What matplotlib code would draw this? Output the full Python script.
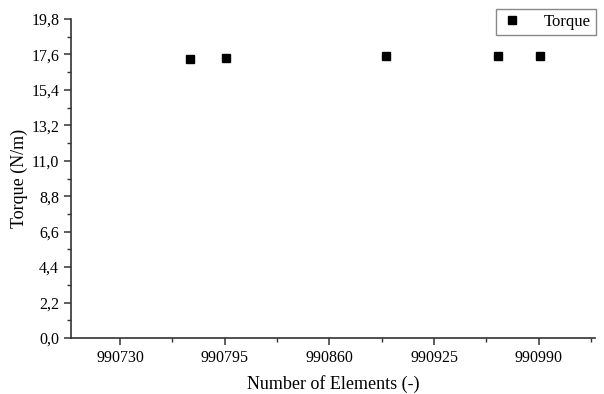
import numpy as np
import matplotlib
matplotlib.use("Agg")
import matplotlib.pyplot as plt
from matplotlib.ticker import MultipleLocator, FuncFormatter

# values
elements = [990773.5, 990796, 990895, 990965, 990991]
torque = [17.30, 17.36, 17.52, 17.52, 17.52]

plt.rcParams['font.family'] = ['Liberation Serif', 'DejaVu Serif']

fig = plt.figure(figsize=(6.04, 3.94), dpi=100)
ax = fig.add_axes([71/604, 1 - 338/394, (595-71)/604, (338-19)/394])

ax.plot(elements, torque, 's', color='black', ms=5.5, label='Torque')

ax.set_xlim(990699.5, 991025)
ax.set_ylim(0, 19.8)
ax.xaxis.set_major_locator(MultipleLocator(65))
ax.xaxis.set_minor_locator(MultipleLocator(32.5))
ax.yaxis.set_major_locator(MultipleLocator(2.2))
ax.yaxis.set_minor_locator(MultipleLocator(1.1))
ax.xaxis.set_major_formatter(FuncFormatter(lambda v, p: "%d" % round(v)))
ax.yaxis.set_major_formatter(FuncFormatter(lambda v, p: ("%.1f" % v).replace('.', ',')))

for s in ['top', 'right']:
    ax.spines[s].set_visible(False)
for s in ['left', 'bottom']:
    ax.spines[s].set_linewidth(1.2)
    ax.spines[s].set_color('#333333')
ax.tick_params(which='major', direction='out', length=5, width=1.1, labelsize=11.5, colors='#333333', labelcolor='black')
ax.tick_params(which='minor', direction='out', length=3, width=1.0, colors='#333333')

ax.set_xlabel('Number of Elements (-)', fontsize=13, labelpad=7)
ax.set_ylabel('Torque (N/m)', fontsize=13, labelpad=2)

leg = ax.legend(loc='upper right', bbox_to_anchor=(1 + 1/524, 1 + 10/319), borderaxespad=0,
                fontsize=12, fancybox=False, edgecolor='#888888', framealpha=1,
                handletextpad=1.3, borderpad=0.3, handlelength=1.3)
leg.get_frame().set_linewidth(1.0)

fig.savefig('out.png', dpi=100)
